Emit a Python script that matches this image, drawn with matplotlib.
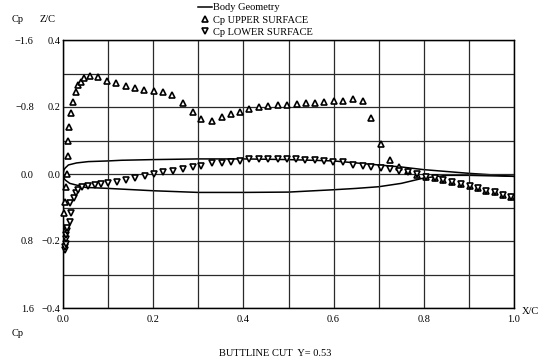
import matplotlib
matplotlib.use("Agg")
import matplotlib.pyplot as plt
from matplotlib.ticker import MultipleLocator, FixedLocator, FixedFormatter

# ---- data ----
geom_upper_x = [0.0, 0.002, 0.005, 0.012, 0.03, 0.056, 0.1, 0.13, 0.2, 0.3, 0.4, 0.5, 0.6, 0.7, 0.75, 0.8, 0.9, 1.0]
geom_upper_z = [0.0, 0.012, 0.018, 0.027, 0.033, 0.037, 0.039, 0.041, 0.043, 0.045, 0.045, 0.043, 0.039, 0.027, 0.021, 0.013, 0.002, -0.007]
geom_lower_x = [0.0, 0.002, 0.005, 0.015, 0.05, 0.1, 0.2, 0.3, 0.4, 0.5, 0.6, 0.65, 0.7, 0.75, 0.8, 0.85, 0.9, 1.0]
geom_lower_z = [0.0, -0.012, -0.018, -0.028, -0.040, -0.043, -0.050, -0.055, -0.055, -0.054, -0.047, -0.043, -0.038, -0.028, -0.012, -0.004, -0.004, -0.007]

upper_x = [0.003, 0.004, 0.006, 0.008, 0.010, 0.012, 0.013, 0.017, 0.023, 0.029, 0.034, 0.040,
           0.047, 0.060, 0.077, 0.098, 0.118, 0.139, 0.160, 0.180, 0.202, 0.222, 0.242, 0.265,
           0.288, 0.307, 0.330, 0.352, 0.372, 0.392, 0.413, 0.435, 0.455, 0.476, 0.496, 0.518,
           0.539, 0.559, 0.579, 0.601, 0.621, 0.642, 0.665, 0.684, 0.704, 0.725, 0.746, 0.766,
           0.786, 0.805, 0.825, 0.843, 0.862, 0.882, 0.902, 0.921, 0.939, 0.958, 0.976, 0.993]
upper_cp = [0.46, 0.34, 0.16, 0.0, -0.21, -0.39, -0.565, -0.725, -0.863, -0.983, -1.063, -1.10,
            -1.143, -1.17, -1.155, -1.114, -1.083, -1.054, -1.023, -1.003, -0.99, -0.983, -0.943, -0.848,
            -0.744, -0.657, -0.637, -0.677, -0.713, -0.744, -0.772, -0.796, -0.812, -0.827, -0.827, -0.836,
            -0.851, -0.851, -0.863, -0.872, -0.875, -0.89, -0.87, -0.665, -0.355, -0.167, -0.08, -0.04,
            0.012, 0.032, 0.05, 0.072, 0.092, 0.12, 0.143, 0.171, 0.2, 0.219, 0.25, 0.27]

lower_x = [0.004, 0.005, 0.006, 0.006, 0.007, 0.008, 0.009, 0.016, 0.018, 0.016, 0.025, 0.028,
           0.033, 0.043, 0.056, 0.071, 0.084, 0.099, 0.119, 0.139, 0.160, 0.182, 0.202, 0.222,
           0.245, 0.265, 0.288, 0.307, 0.330, 0.352, 0.372, 0.392, 0.413, 0.434, 0.455, 0.476,
           0.496, 0.517, 0.537, 0.559, 0.579, 0.599, 0.620, 0.642, 0.665, 0.684, 0.704, 0.725,
           0.746, 0.766, 0.786, 0.805, 0.825, 0.843, 0.862, 0.882, 0.902, 0.921, 0.939, 0.958,
           0.976, 0.993]
lower_cp = [0.91, 0.87, 0.83, 0.78, 0.73, 0.68, 0.64, 0.57, 0.47, 0.35, 0.29, 0.23,
            0.19, 0.16, 0.14, 0.13, 0.12, 0.11, 0.09, 0.07, 0.05, 0.024, 0.0, -0.02,
            -0.04, -0.065, -0.087, -0.10, -0.128, -0.135, -0.147, -0.159, -0.175, -0.178, -0.18, -0.183,
            -0.182, -0.175, -0.167, -0.165, -0.155, -0.147, -0.14, -0.11, -0.096, -0.08, -0.068, -0.056,
            -0.04, -0.028, 0.0, 0.032, 0.05, 0.072, 0.092, 0.12, 0.143, 0.171, 0.2, 0.219,
            0.25, 0.27]

cp_ticks = [-1.6, -0.8, 0.0, 0.8, 1.6]
cp_labels = ["\u22121.6", "\u22120.8", "0.0", "0.8", "1.6"]
zc_ticks = [0.4, 0.2, 0.0, -0.2, -0.4]
zc_labels = ["0.4", "0.2", "0.0", "\u22120.2", "\u22120.4"]
x_ticks = [0.0, 0.2, 0.4, 0.6, 0.8, 1.0]
x_labels = ["0.0", "0.2", "0.4", "0.6", "0.8", "1.0"]

plt.rcParams['font.family'] = ['Liberation Serif', 'DejaVu Serif']
FS = 7.5

fig = plt.figure(figsize=(5.44, 3.64), dpi=100)
ax = fig.add_axes([63/544, 1-308/364, (514-63)/544, (308-40)/364])  # Cp axis
ax2 = ax.twinx()  # Z/C axis

ax.set_xlim(0, 1)
ax.set_ylim(1.6, -1.6)
ax2.set_ylim(-0.4, 0.4)

gridc = '#2a2a2a'
ax.xaxis.set_major_locator(FixedLocator(x_ticks))
ax.xaxis.set_major_formatter(FixedFormatter(x_labels))
ax.xaxis.set_minor_locator(MultipleLocator(0.1))
ax.yaxis.set_major_locator(FixedLocator(cp_ticks))
ax.yaxis.set_major_formatter(FixedFormatter(cp_labels))
ax.yaxis.set_minor_locator(MultipleLocator(0.4))
ax.grid(True, which='both', color=gridc, lw=0.9)
ax.tick_params(which='both', length=0)
ax.tick_params(axis='y', pad=21, labelsize=FS)
ax.tick_params(axis='x', pad=5, labelsize=FS)

ax2.yaxis.set_major_locator(FixedLocator(zc_ticks))
ax2.yaxis.set_major_formatter(FixedFormatter(zc_labels))
ax2.yaxis.tick_left()
ax2.tick_params(which='both', length=0, pad=2, labelsize=FS)
for a in (ax, ax2):
    for s in a.spines.values():
        s.set_color('black')
        s.set_linewidth(0.9)

# geometry on Z/C axis
lg, = ax2.plot(geom_upper_x, geom_upper_z, color='black', lw=1.1, label='Body Geometry')
ax2.plot(geom_lower_x, geom_lower_z, color='black', lw=1.1)

# Cp data
lu, = ax.plot(upper_x, upper_cp, ls='none', marker='^', ms=5, mfc='white', mec='black', mew=1.2,
              label='Cp UPPER SURFACE', clip_on=False, zorder=5)
ll, = ax.plot(lower_x, lower_cp, ls='none', marker='v', ms=5, mfc='white', mec='black', mew=1.2,
              label='Cp LOWER SURFACE', clip_on=False, zorder=5)
ax.set_zorder(ax2.get_zorder() + 1)
ax.patch.set_visible(False)

fig.legend(handles=[lg, lu, ll], loc='upper left', bbox_to_anchor=(198/544, 1-3/364),
           frameon=False, fontsize=FS, handlelength=1.3, handletextpad=0.1,
           labelspacing=0.3, borderpad=0, borderaxespad=0)

fig.text(12/544, 1-20/364, "Cp", fontsize=FS, va='center', ha='left')
fig.text(40/544, 1-20/364, "Z/C", fontsize=FS, va='center', ha='left')
fig.text(522/544, 1-311/364, "X/C", fontsize=FS, va='center', ha='left')
fig.text(12/544, 1-334/364, "Cp", fontsize=FS, va='center', ha='left')
fig.text(275/544, 1-354/364, "BUTTLINE CUT  Y= 0.53", fontsize=FS, va='center', ha='center')

fig.savefig("out.png", dpi=100)
